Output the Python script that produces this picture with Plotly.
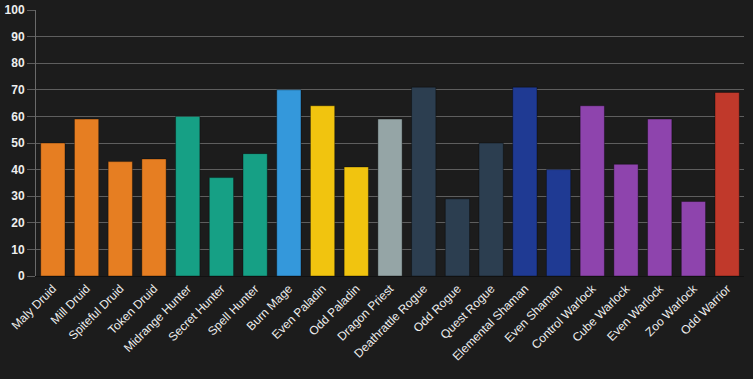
import plotly.graph_objects as go

decks = ["Maly Druid", "Mill Druid", "Spiteful Druid", "Token Druid", "Midrange Hunter",
         "Secret Hunter", "Spell Hunter", "Burn Mage", "Even Paladin", "Odd Paladin",
         "Dragon Priest", "Deathrattle Rogue", "Odd Rogue", "Quest Rogue", "Elemental Shaman",
         "Even Shaman", "Control Warlock", "Cube Warlock", "Even Warlock", "Zoo Warlock",
         "Odd Warrior"]
values = [50, 59, 43, 44, 60, 37, 46, 70, 64, 41, 59, 71, 29, 50, 71, 40, 64, 42, 59, 28, 69]
classes = ["Druid"] * 4 + ["Hunter"] * 3 + ["Mage"] + ["Paladin"] * 2 + ["Priest"] + \
          ["Rogue"] * 3 + ["Shaman"] * 2 + ["Warlock"] * 4 + ["Warrior"]
class_colors = {"Druid": "#e67e22", "Hunter": "#16a085", "Mage": "#3498db",
                "Paladin": "#f1c40f", "Priest": "#95a5a6", "Rogue": "#2c3e50",
                "Shaman": "#1f3a93", "Warlock": "#8e44ad", "Warrior": "#c0392b"}
colors = [class_colors[c] for c in classes]

fig = go.Figure(go.Bar(
    x=decks, y=values,
    marker=dict(color=colors, line=dict(color="rgba(0,0,0,0.35)", width=1)),
))

fig.update_layout(
    width=753, height=379,
    paper_bgcolor="#1c1c1c", plot_bgcolor="#1c1c1c",
    margin=dict(l=36, r=9, t=10, b=103),
    bargap=0.28,
    showlegend=False,
    font=dict(family="Liberation Sans, Arial, sans-serif", color="#eeeeee"),
)
fig.update_xaxes(tickangle=-45, tickfont=dict(size=12, color="#eeeeee"),
                 showgrid=False, showline=True, linecolor="#111111", ticks="",
                 automargin=False)
fig.update_yaxes(range=[0, 100], dtick=10, gridcolor="#5e5e5e", gridwidth=1,
                 tickfont=dict(size=12, color="#eeeeee", family="Liberation Sans, Arial, sans-serif", weight="bold"),
                 showline=True, linecolor="#6a6a6a", ticks="outside", ticklen=8,
                 tickcolor="#5e5e5e", zeroline=False, automargin=False)

fig.write_html("out.html",
               config={"displayModeBar": False},
               post_script="document.body.style.margin='0';document.body.style.background='#1c1c1c';")
